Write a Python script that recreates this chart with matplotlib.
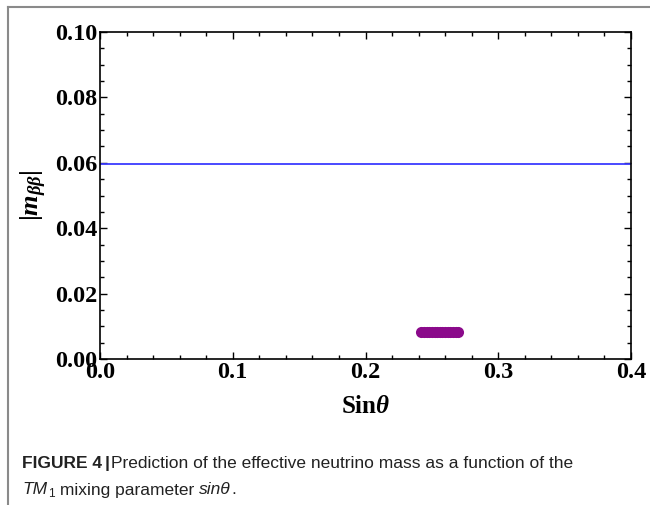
import matplotlib
matplotlib.use("Agg")
import matplotlib.pyplot as plt
from matplotlib.ticker import MultipleLocator, FormatStrFormatter
from matplotlib.lines import Line2D

# Datos
sin_theta = [0.242, 0.244, 0.246, 0.248, 0.250, 0.252, 0.254, 0.256, 0.258,
             0.260, 0.262, 0.264, 0.266, 0.268, 0.270]
m_bb = [0.0084, 0.0084, 0.0083, 0.0084, 0.0084, 0.0083, 0.0084, 0.0084, 0.0083,
        0.0084, 0.0084, 0.0083, 0.0084, 0.0084, 0.0084]
linea_x = [0.0, 0.4]
linea_y = [0.0597, 0.0597]

plt.rcParams['font.family'] = ['Liberation Serif', 'DejaVu Serif']
plt.rcParams['mathtext.fontset'] = 'custom'
plt.rcParams['mathtext.rm'] = 'Liberation Serif:bold'
plt.rcParams['mathtext.bf'] = 'Liberation Serif:bold'
plt.rcParams['mathtext.it'] = 'Liberation Serif:italic:bold'

fig = plt.figure(figsize=(6.5, 5.05), dpi=100)
ax = fig.add_axes([100 / 650, 1 - 359 / 505, 531 / 650, 327 / 505])

ax.plot(linea_x, linea_y, color='#3b3bff', lw=1.3)
ax.plot(sin_theta, m_bb, color='#8b0a8b', lw=0, marker='o', ms=8, mec='none')

ax.set_xlim(0, 0.4)
ax.set_ylim(0, 0.1)
ax.xaxis.set_major_locator(MultipleLocator(0.1))
ax.xaxis.set_minor_locator(MultipleLocator(0.02))
ax.yaxis.set_major_locator(MultipleLocator(0.02))
ax.yaxis.set_minor_locator(MultipleLocator(0.005))
ax.xaxis.set_major_formatter(FormatStrFormatter('%.1f'))
ax.yaxis.set_major_formatter(FormatStrFormatter('%.2f'))
ax.tick_params(which='both', direction='in', top=True, right=True, width=1)
ax.tick_params(which='major', length=5, labelsize=17.5, pad=2)
ax.tick_params(which='minor', length=3)
for lab in ax.get_xticklabels() + ax.get_yticklabels():
    lab.set_fontweight('bold')
for s in ax.spines.values():
    s.set_linewidth(1.2)

ax.set_xlabel(r'Sin$\it{\theta}$', fontsize=18, fontweight='bold', labelpad=9)
ax.set_ylabel(r'$|\it{m}_{\it{\beta\beta}}|$', fontsize=19, labelpad=4)

# marco gris de la captura
fig.add_artist(Line2D([8 / 650, 8 / 650], [0, 1 - 7 / 505], transform=fig.transFigure, color='#8a8a8a', lw=1.5))
fig.add_artist(Line2D([8 / 650, 1], [1 - 7 / 505, 1 - 7 / 505], transform=fig.transFigure, color='#8a8a8a', lw=1.5))

# pie de figura
cap = ['Liberation Sans', 'DejaVu Sans']
fs = 12.5
col = '#222222'
t1 = fig.text(22 / 650, 1 - 468 / 505, 'FIGURE 4', family=cap, fontweight='bold', fontsize=fs,
              va='baseline', color=col)
tb = ax.annotate('|', xy=(1, 0), xycoords=t1, xytext=(2, 0), textcoords='offset points',
                 family=cap, fontweight='bold', fontsize=fs, va='bottom', color=col, annotation_clip=False)
ax.annotate('Prediction of the effective neutrino mass as a function of the', xy=(1, 0), xycoords=tb,
            xytext=(1, 0), textcoords='offset points',
            family=cap, fontsize=fs, va='bottom', color=col, annotation_clip=False)
t2 = fig.text(22 / 650, 1 - 490 / 505, 'TM', family=cap, style='italic', fontsize=fs, va='center', color=col)
t3 = ax.annotate('1', xy=(1, 0), xycoords=t2, xytext=(1, -2), textcoords='offset points',
                 family=cap, fontsize=8.5, va='bottom', color=col, annotation_clip=False)
t4 = ax.annotate(' mixing parameter ', xy=(1, 0), xycoords=t3, xytext=(0, 2), textcoords='offset points',
                 family=cap, fontsize=fs, va='bottom', color=col, annotation_clip=False)
t5 = ax.annotate('sinθ', xy=(1, 0), xycoords=t4, family=cap, style='italic', fontsize=fs,
                 va='bottom', color=col, annotation_clip=False)
ax.annotate('.', xy=(1, 0), xycoords=t5, family=cap, fontsize=fs, va='bottom', color=col, annotation_clip=False)

fig.savefig('out.png', dpi=100)
